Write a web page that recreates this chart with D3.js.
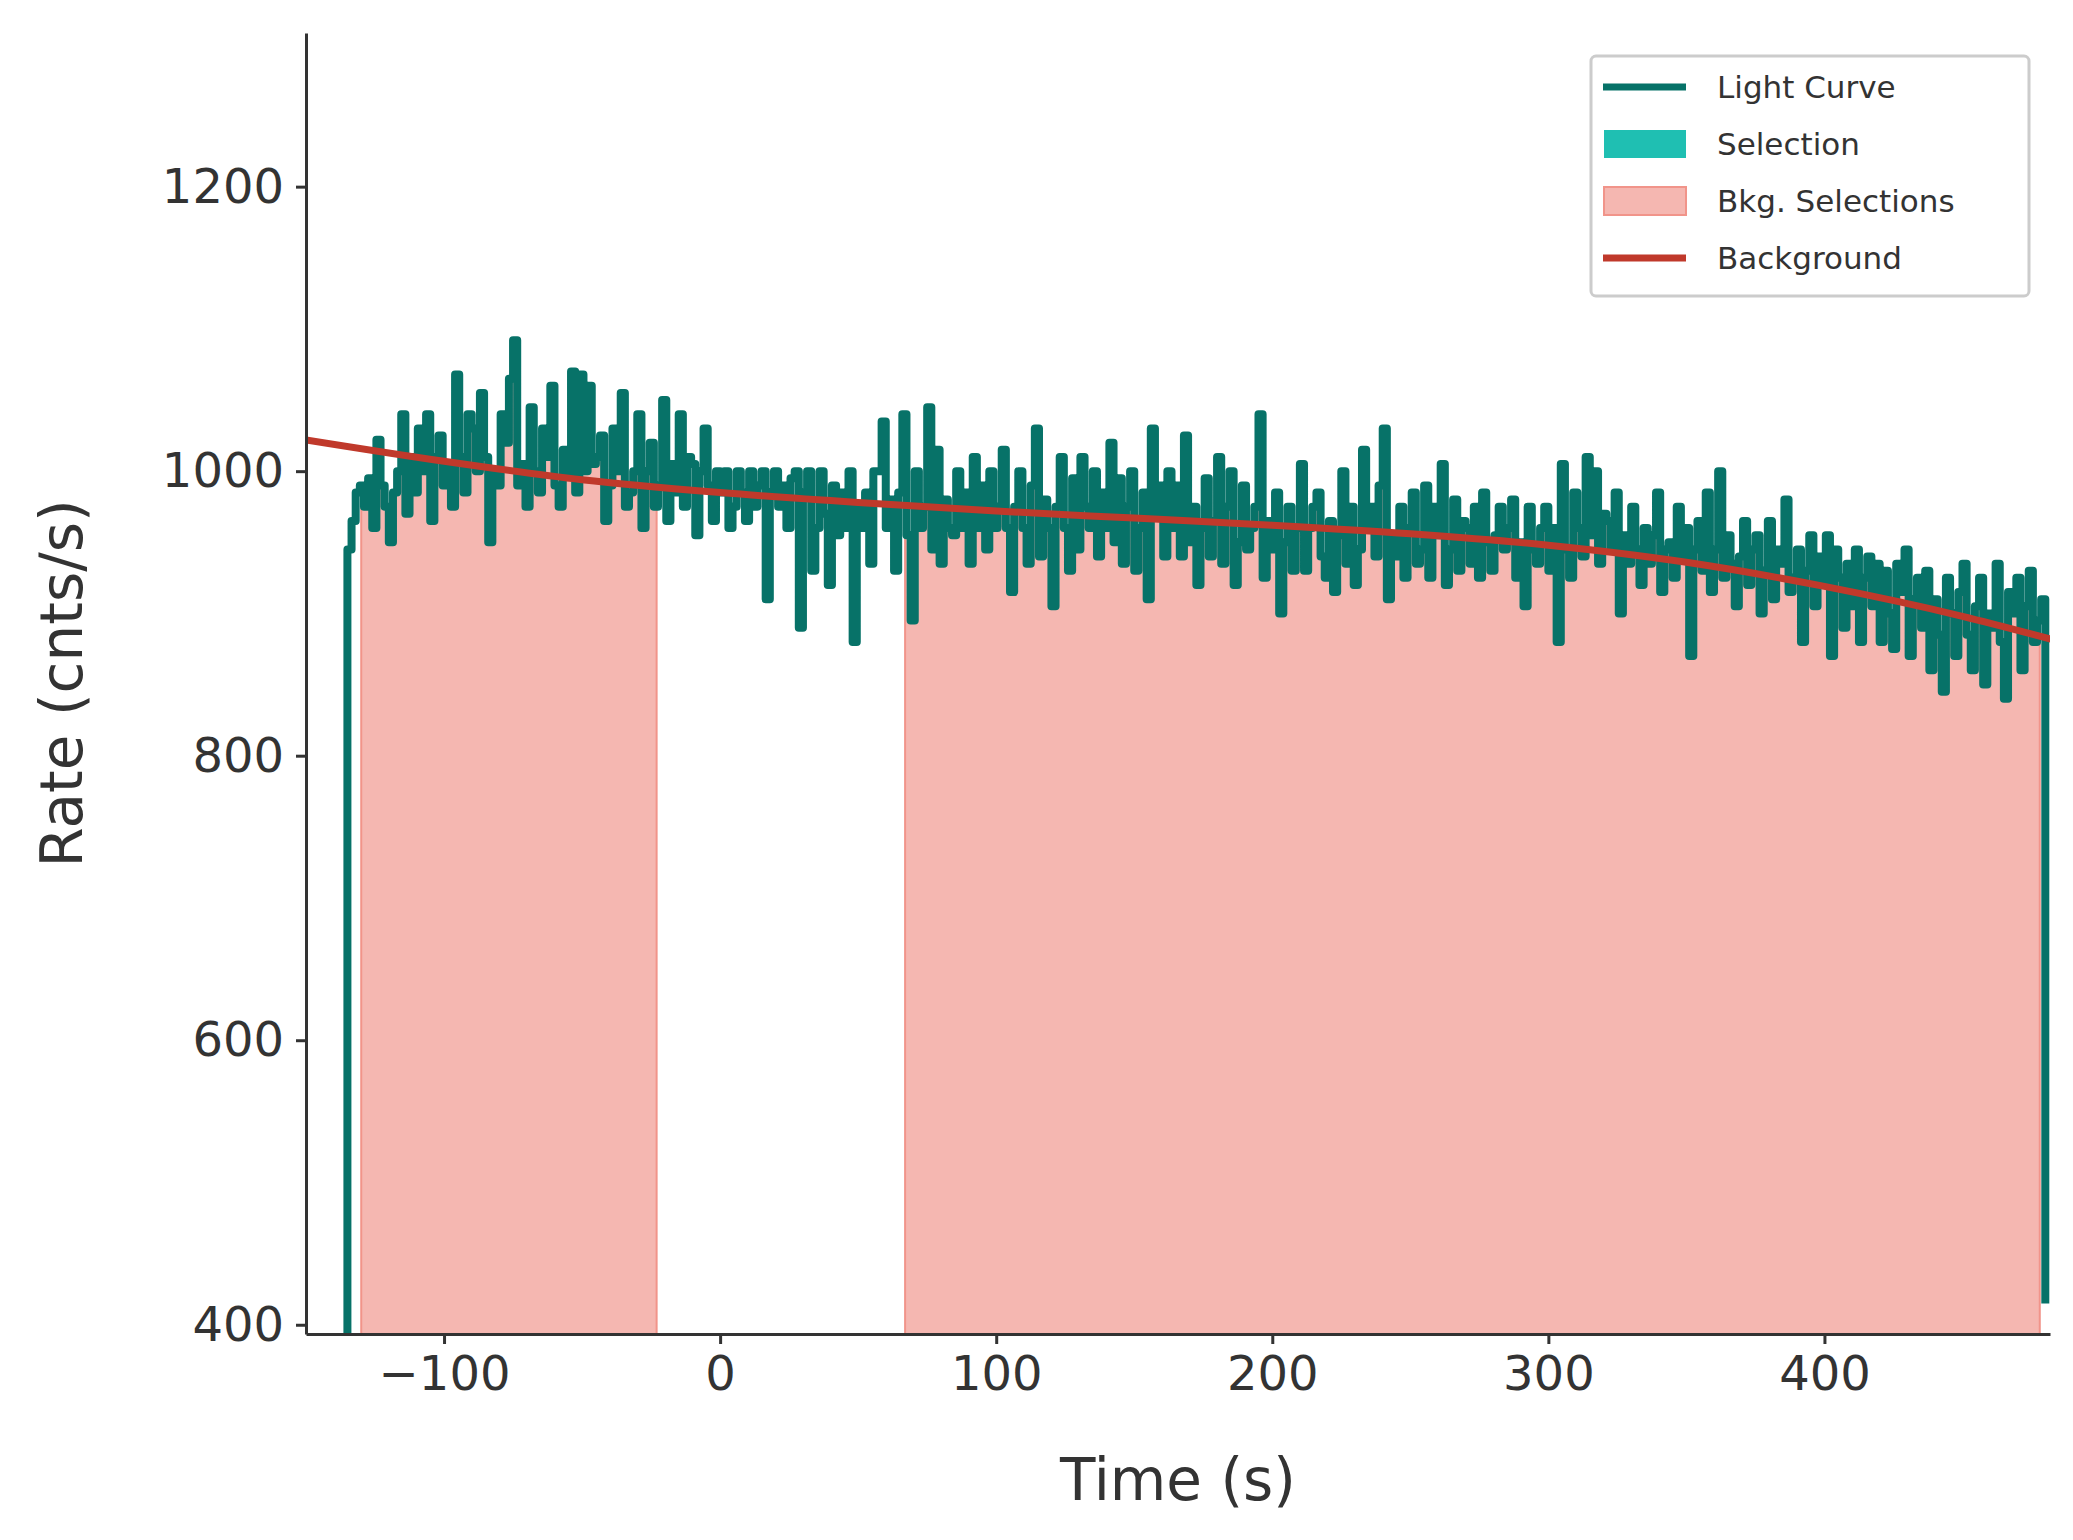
<!DOCTYPE html>
<html><head><meta charset="utf-8">
<script src="https://cdn.jsdelivr.net/npm/d3@7"></script>
<style>body{margin:0;background:#fff}text{font-family:"DejaVu Sans",sans-serif;fill:#333}</style>
</head><body><svg id="c" width="2073" height="1540"></svg>
<script>
const binStart = -135, binWidth = 1.5;
const rates = [
945,965,985,990,975,995,960,1022,990,975,
950,985,1000,1040,970,1010,985,1030,1000,1040,
965,1010,1025,990,1005,975,1068,1010,985,1040,
1030,1000,1055,1010,950,1000,990,1040,1020,1065,
1092,990,1005,975,1045,1000,985,1030,1010,1060,
990,975,1015,1000,1070,985,1068,1000,1060,1005,
1010,1025,965,990,1030,1000,1055,975,985,1000,
1040,960,1000,1020,975,990,1050,965,1005,985,
1040,975,1010,1005,955,1000,1030,990,965,1000,
985,1000,960,975,1000,985,965,1000,975,990,
1000,910,985,1000,975,990,960,995,1000,890,
985,1000,930,960,1000,970,920,990,955,985,
960,1000,880,975,960,985,935,1000,1000,1035,
960,980,930,985,1040,955,895,1000,960,975,
1045,945,1015,935,980,960,955,1000,960,985,
935,1010,960,990,945,1000,960,975,1015,960,
915,975,1000,960,935,990,1030,940,980,960,
905,975,1010,960,930,995,945,1010,975,960,
1000,940,985,960,1020,950,995,935,975,1000,
930,960,985,910,1030,970,990,940,1000,960,
990,940,1025,950,975,920,960,995,940,965,
1010,935,975,1000,920,950,990,945,960,975,
1040,925,965,945,985,900,950,975,930,960,
1005,930,960,975,985,940,925,965,915,955,
1000,935,975,920,945,1015,960,975,940,990,
1030,910,955,940,975,925,960,985,935,945,
990,925,975,955,1005,920,945,980,930,965,
960,935,975,925,985,950,930,955,975,945,
960,980,925,950,905,975,945,935,960,975,
930,960,880,1005,945,925,985,960,940,1010,
955,1000,935,970,965,945,985,900,955,935,
975,945,920,960,935,955,985,915,945,950,
925,975,940,960,870,945,965,930,985,915,
945,1000,925,955,935,905,940,965,920,945,
955,900,930,965,910,945,935,980,915,925,
945,880,930,955,905,940,920,955,870,945,
925,890,935,905,945,880,925,940,905,935,
880,930,900,875,935,915,945,870,910,925,
890,930,860,910,885,845,925,900,870,915,
935,885,860,905,925,850,900,890,935,880,
840,915,900,925,860,905,930,880,895,910];
const endRate = 415;
const bkgSelections = [[-130,-23],[67,478]];
const bkgTimes = [-150,-100,-50,0,50,100,150,200,250,300,350,400,450,482];
const bkgRates = [1022,1007,994,985,978,972,967,962,956,948,936,919,898,882];
const xTicks = [-100,0,100,200,300,400];
const yTicks = [400,600,800,1000,1200];

const W=2073,H=1540,m={l:306,r:23,t:33,b:206};
const svg=d3.select("#c");
const x=d3.scaleLinear().domain([-150,481.7]).range([m.l,W-m.r]);
const y=d3.scaleLinear().domain([393.5,1308]).range([H-m.b,m.t]);
const pts=[[binStart,380]];
rates.forEach((r,i)=>pts.push([binStart+i*binWidth,r]));
pts.push([binStart+rates.length*binWidth,endRate]);
svg.append("clipPath").attr("id","pc").append("rect").attr("x",m.l).attr("y",m.t).attr("width",W-m.l-m.r).attr("height",H-m.t-m.b);
const g=svg.append("g").attr("clip-path","url(#pc)");
bkgSelections.forEach((s,i)=>{
  svg.append("clipPath").attr("id","bc"+i).append("rect").attr("x",x(s[0])).attr("y",0).attr("width",x(s[1])-x(s[0])).attr("height",H);
  const a=d3.area().curve(d3.curveStepAfter).x(d=>x(d[0])).y0(y(393.5)).y1(d=>y(d[1]));
  g.append("g").attr("clip-path","url(#bc"+i+")").append("path").datum(pts.slice(1)).attr("d",a).attr("fill","#f5b7b1");
  [s[0],s[1]].forEach(t=>g.append("line").attr("x1",x(t)).attr("x2",x(t)).attr("y1",y(393.5)).attr("y2",y(rates[Math.min(rates.length-1,Math.floor((t-binStart)/binWidth))])).attr("stroke","#f1948a").attr("stroke-width",2));
});
g.append("path").datum(pts).attr("d",d3.line().curve(d3.curveStepAfter).x(d=>x(d[0])).y(d=>y(d[1]))).attr("fill","none").attr("stroke","#077268").attr("stroke-width",8).attr("stroke-linejoin","round");
g.append("path").datum(bkgTimes.map((t,i)=>[t,bkgRates[i]])).attr("d",d3.line().curve(d3.curveMonotoneX).x(d=>x(d[0])).y(d=>y(d[1]))).attr("fill","none").attr("stroke","#c0392b").attr("stroke-width",7);
const xa=svg.append("g").attr("transform",`translate(0,${H-m.b})`).call(d3.axisBottom(x).tickValues(xTicks).tickFormat(d=>d<0?"−"+(-d):String(d)).tickSize(10).tickSizeOuter(0).tickPadding(12));
const ya=svg.append("g").attr("transform",`translate(${m.l},0)`).call(d3.axisLeft(y).tickValues(yTicks).tickFormat(d=>String(d)).tickSize(10).tickSizeOuter(0).tickPadding(12));
[xa,ya].forEach(a=>{a.selectAll("path,line").attr("stroke","#333").attr("stroke-width",3);a.selectAll("text").style("font-size","48px").attr("fill","#333").style("font-family","DejaVu Sans");});
svg.append("text").attr("x",(m.l+W-m.r)/2).attr("y",1500).attr("text-anchor","middle").style("font-size","58px").text("Time (s)");
svg.append("text").attr("transform",`translate(82,${(m.t+H-m.b)/2}) rotate(-90)`).attr("text-anchor","middle").style("font-size","58px").text("Rate (cnts/s)");
const lg=svg.append("g").attr("transform","translate(1591,56)");
lg.append("rect").attr("width",438).attr("height",240).attr("rx",5).attr("fill","#fff").attr("fill-opacity",0.8).attr("stroke","#ccc").attr("stroke-width",3);
const items=[["Light Curve","line","#077268"],["Selection","rect","#1fbfb2"],["Bkg. Selections","rect","#f5b7b1"],["Background","line","#c0392b"]];
items.forEach((it,i)=>{const cy=31+i*57;
  if(it[1]=="line")lg.append("line").attr("x1",12).attr("x2",95).attr("y1",cy).attr("y2",cy).attr("stroke",it[2]).attr("stroke-width",7);
  else lg.append("rect").attr("x",13).attr("y",cy-14).attr("width",82).attr("height",28).attr("fill",it[2]).attr("stroke",i==2?"#f1948a":"none").attr("stroke-width",2);
  lg.append("text").attr("x",126).attr("y",cy+11).style("font-size","31px").text(it[0]);});
</script></body></html>
